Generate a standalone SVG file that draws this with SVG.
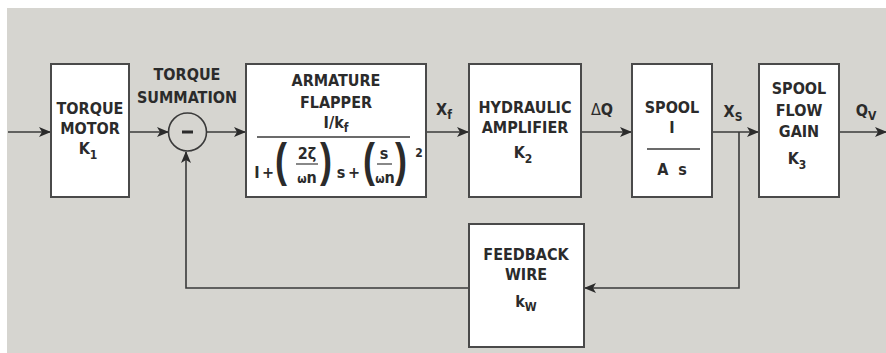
<svg xmlns="http://www.w3.org/2000/svg" width="886" height="353" viewBox="0 0 886 353">
<defs>
<style>
.box{fill:#ffffff;stroke:#4a4a4a;stroke-width:2}
.ln{fill:none;stroke:#3a3a3a;stroke-width:1.6}
.t{font-family:'Liberation Sans Narrow','DejaVu Sans Condensed','Liberation Sans',sans-serif;font-weight:bold;font-size:16px;fill:#2b2b2b;text-anchor:middle}
.s{font-size:12px}
.p{font-family:'Liberation Sans',sans-serif;font-weight:bold;font-size:36px;fill:#2b2b2b}
</style>
<marker id="ah" viewBox="0 0 12 10" refX="11" refY="5" markerWidth="12" markerHeight="10" markerUnits="userSpaceOnUse" orient="auto">
<path d="M0,0 L12,5 L0,10 L3,5 z" fill="#2b2b2b"/>
</marker>
</defs>
<rect x="0" y="0" width="886" height="353" fill="#ffffff"/>
<rect x="7" y="8" width="879" height="345" fill="#d6d5d0"/>

<g id="connectors">
<line class="ln" x1="8" y1="132" x2="50" y2="132" marker-end="url(#ah)"/>
<line class="ln" x1="129" y1="132" x2="168" y2="132" marker-end="url(#ah)"/>
<line class="ln" x1="207" y1="132" x2="245" y2="132" marker-end="url(#ah)"/>
<line class="ln" x1="426" y1="132" x2="468" y2="132" marker-end="url(#ah)"/>
<line class="ln" x1="581" y1="132" x2="631" y2="132" marker-end="url(#ah)"/>
<line class="ln" x1="712" y1="132" x2="758" y2="132" marker-end="url(#ah)"/>
<line class="ln" x1="839" y1="132" x2="886" y2="132" marker-end="url(#ah)"/>
<polyline class="ln" points="739,132 739,288 585,288" marker-end="url(#ah)"/>
<polyline class="ln" points="469,288 186,288 186,152" marker-end="url(#ah)"/>
</g>

<g id="torque-motor">
<rect class="box" x="51" y="64" width="78" height="133"/>
<text class="t" x="90" y="114">TORQUE</text>
<text class="t" x="90" y="134">MOTOR</text>
<text class="t" x="88" y="154">K<tspan class="s" dy="5">1</tspan></text>
</g>

<g id="torque-summation">
<text class="t" x="187" y="80">TORQUE</text>
<text class="t" x="187" y="103">SUMMATION</text>
<circle cx="187.5" cy="132" r="19" fill="none" stroke="#3a3a3a" stroke-width="1.6"/>
<line x1="182" y1="132" x2="193" y2="132" stroke="#2b2b2b" stroke-width="3"/>
</g>

<g id="armature-flapper">
<rect class="box" x="246" y="64" width="180" height="133"/>
<text class="t" x="336" y="86">ARMATURE</text>
<text class="t" x="336" y="108">FLAPPER</text>
<text class="t" x="336" y="128">I/k<tspan class="s" dy="4">f</tspan></text>
<line x1="257" y1="137" x2="410" y2="137" stroke="#3a3a3a" stroke-width="1.6"/>
<text class="t" x="257" y="178">I</text>
<text class="t" x="268" y="178">+</text>
<text class="p" transform="translate(275,176) scale(1,1.3)">(</text>
<text class="t" x="307" y="159">2ζ</text>
<line x1="296" y1="164" x2="318" y2="164" stroke="#3a3a3a" stroke-width="1.2"/>
<text class="t" x="307" y="183"><tspan class="s">ω</tspan>n</text>
<text class="p" transform="translate(320,176) scale(1,1.3)">)</text>
<text class="t" x="341" y="178">s</text>
<text class="t" x="354" y="178">+</text>
<text class="p" transform="translate(363,176) scale(1,1.3)">(</text>
<text class="t" x="384" y="159">s</text>
<line x1="377" y1="164" x2="392" y2="164" stroke="#3a3a3a" stroke-width="1.2"/>
<text class="t" x="385" y="183"><tspan class="s">ω</tspan>n</text>
<text class="p" transform="translate(395,176) scale(1,1.3)">)</text>
<text class="t s" x="419" y="157">2</text>
</g>

<g id="label-xf">
<text class="t" x="444" y="115">X<tspan class="s" dy="4">f</tspan></text>
</g>

<g id="hydraulic-amplifier">
<rect class="box" x="469" y="64" width="112" height="133"/>
<text class="t" x="525" y="113">HYDRAULIC</text>
<text class="t" x="525" y="133">AMPLIFIER</text>
<text class="t" x="523" y="158">K<tspan class="s" dy="5">2</tspan></text>
</g>

<g id="label-dq">
<text class="t" x="602" y="115" style="font-weight:normal">Δ<tspan style="font-weight:bold">Q</tspan></text>
</g>

<g id="spool">
<rect class="box" x="632" y="64" width="80" height="133"/>
<text class="t" x="672" y="113">SPOOL</text>
<text class="t" x="672" y="133">I</text>
<line x1="647" y1="149" x2="700" y2="149" stroke="#3a3a3a" stroke-width="1.6"/>
<text class="t" x="672" y="175" xml:space="preserve">A  s</text>
</g>

<g id="label-xs">
<text class="t" x="733" y="117">X<tspan class="s" dy="4">S</tspan></text>
</g>

<g id="spool-flow-gain">
<rect class="box" x="759" y="64" width="80" height="133"/>
<text class="t" x="799" y="94">SPOOL</text>
<text class="t" x="799" y="116">FLOW</text>
<text class="t" x="799" y="137">GAIN</text>
<text class="t" x="797" y="164">K<tspan class="s" dy="5">3</tspan></text>
</g>

<g id="label-qv">
<text class="t" x="866" y="116">Q<tspan class="s" dy="4">V</tspan></text>
</g>

<g id="feedback-wire">
<rect class="box" x="469" y="224" width="115" height="123"/>
<text class="t" x="526" y="260">FEEDBACK</text>
<text class="t" x="526" y="280">WIRE</text>
<text class="t" x="526" y="307">k<tspan class="s" dy="4">W</tspan></text>
</g>
</svg>
